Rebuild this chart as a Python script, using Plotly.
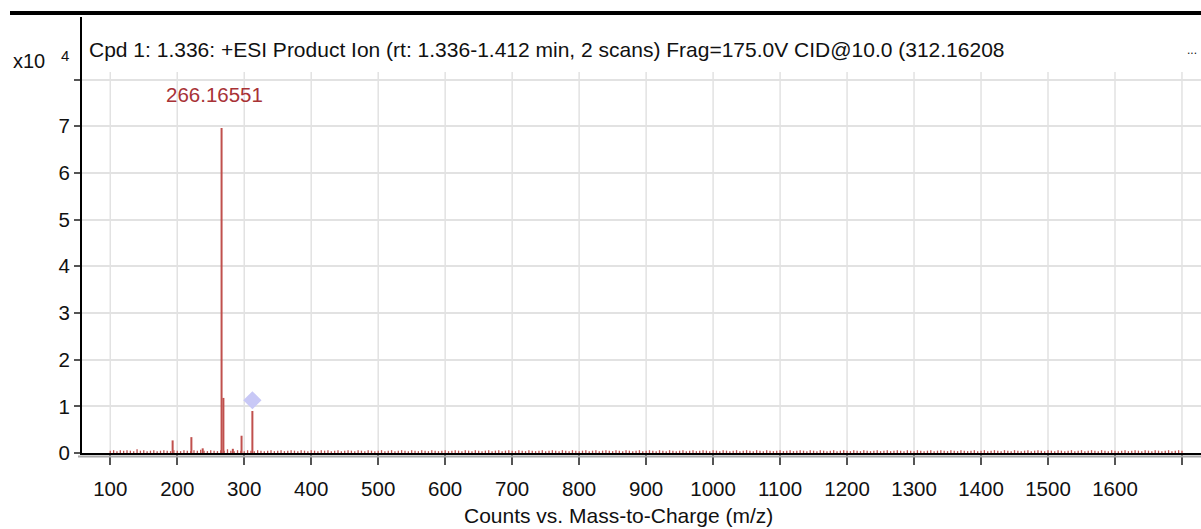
import plotly.graph_objects as go

# ---------------- data ----------------
title_text = "Cpd 1: 1.336: +ESI Product Ion (rt: 1.336-1.412 min, 2 scans) Frag=175.0V CID@10.0 (312.16208"
x_title = "Counts vs. Mass-to-Charge (m/z)"
y_scale_text = "x10"
y_scale_exp = "4"

# main fragment peaks (m/z, intensity in x10^4 counts)
peak_mz = [193.1, 221.1, 238.0, 266.16551, 268.9, 283.0, 296.0, 312.16208]
peak_int = [0.27, 0.34, 0.10, 6.96, 1.18, 0.09, 0.37, 0.90]

# labelled peak
label_mz = 266.16551
label_int = 6.96
label_text = "266.16551"

# precursor marker
precursor_mz = [312.16208]
precursor_int = [1.13]

# low-level baseline noise (hundredths of x10^4 counts), every 5 m/z from 100 to 1700
noise_mz = list(range(100, 1701, 5))
noise_h = [
    5, 6, 4, 6, 5, 6, 5, 4, 8, 5, 6, 4, 5, 6, 4, 5, 6, 5, 4, 6,
    5, 4, 6, 5, 4, 6, 5, 7, 5, 4, 6, 5, 4, 6, 5, 8, 5, 4, 6, 5,
    4, 6, 5, 4, 6, 5, 4, 5, 6, 4, 5, 6, 4, 5, 6, 5, 4, 6, 5, 4,
    6, 5, 4, 6, 5, 6, 4, 5, 6, 4, 5, 6, 5, 4, 6, 5, 4, 6, 5, 4,
    5, 6, 4, 5, 6, 4, 5, 6, 5, 4, 6, 5, 4, 6, 5, 4, 6, 5, 4, 5,
    6, 4, 5, 6, 5, 4, 6, 5, 4, 6, 5, 4, 5, 6, 4, 5, 6, 4, 5, 6,
    5, 4, 6, 5, 4, 6, 5, 4, 5, 6, 4, 5, 6, 5, 4, 6, 5, 4, 6, 5,
    4, 5, 6, 4, 5, 6, 4, 5, 6, 5, 4, 6, 5, 4, 6, 5, 4, 5, 6, 4,
    5, 6, 5, 4, 6, 5, 4, 6, 5, 4, 5, 6, 4, 5, 6, 4, 5, 6, 5, 4,
    6, 5, 4, 6, 5, 4, 5, 6, 4, 5, 6, 5, 4, 6, 5, 4, 6, 5, 4, 5,
    6, 4, 5, 6, 4, 5, 6, 5, 4, 6, 5, 4, 6, 5, 4, 5, 6, 4, 5, 6,
    5, 4, 6, 5, 4, 6, 5, 4, 5, 6, 4, 5, 6, 4, 5, 6, 5, 4, 6, 5,
    4, 6, 5, 4, 5, 6, 4, 5, 6, 5, 4, 6, 5, 4, 6, 5, 4, 5, 6, 4,
    5, 6, 4, 5, 6, 5, 4, 6, 5, 4, 6, 5, 4, 5, 6, 4, 5, 6, 5, 4,
    6, 5, 4, 6, 5, 4, 5, 6, 4, 5, 6, 4, 5, 6, 5, 4, 6, 5, 4, 6,
    5, 4, 5, 6, 4, 5, 6, 5, 4, 6, 5, 4, 6, 5, 4, 5, 6, 4, 5, 6,
    5,
]

x_ticks = [100, 200, 300, 400, 500, 600, 700, 800, 900, 1000, 1100, 1200,
           1300, 1400, 1500, 1600, 1700]
x_ticklabels = ["100", "200", "300", "400", "500", "600", "700", "800", "900",
                "1000", "1100", "1200", "1300", "1400", "1500", "1600", ""]
y_ticks = [0, 1, 2, 3, 4, 5, 6, 7, 8]
y_ticklabels = ["0", "1", "2", "3", "4", "5", "6", "7", ""]

# ---------------- styling ----------------
FONT = "Liberation Sans, Arial, sans-serif"
PEAK_COLOR = "#c0504d"
GRID = "#e2e2e2"
W, H = 1201, 529
ML, MR, MT, MB = 82, 0, 17, 76
PW, PH = W - ML - MR, H - MT - MB


def px_x(p):
    return (p - ML) / PW


def px_y(p):
    return (H - MB - p) / PH


def sticks(xs, ys):
    sx, sy = [], []
    for a, b in zip(xs, ys):
        sx += [a, a, None]
        sy += [0, b, None]
    return sx, sy


fig = go.Figure()

nx, ny = sticks(noise_mz, [h / 100 for h in noise_h])
fig.add_trace(go.Scatter(x=nx, y=ny, mode="lines",
                         line=dict(color=PEAK_COLOR, width=1.3),
                         hoverinfo="skip", showlegend=False))

sx, sy = sticks(peak_mz, peak_int)
fig.add_trace(go.Scatter(x=sx, y=sy, mode="lines",
                         line=dict(color=PEAK_COLOR, width=2),
                         showlegend=False))

fig.add_trace(go.Scatter(x=precursor_mz, y=precursor_int, mode="markers",
                         marker=dict(symbol="diamond", size=14, color="#c8c8f6",
                                     line=dict(width=0)),
                         showlegend=False))

# vertical grid lines (stop below the title row)
shapes = []
for t in x_ticks:
    shapes.append(dict(type="line", xref="x", yref="y", x0=t, x1=t, y0=0, y1=8.16,
                       line=dict(color=GRID, width=1.5), layer="below"))
# top black bar
shapes.append(dict(type="rect", xref="paper", yref="paper",
                   x0=px_x(10), x1=1.0, y0=px_y(15), y1=px_y(11),
                   fillcolor="black", line=dict(width=0)))
# grey shadow under x axis
shapes.append(dict(type="line", xref="paper", yref="paper",
                   x0=px_x(78), x1=1.0, y0=px_y(456.5), y1=px_y(456.5),
                   line=dict(color="#a8a8a8", width=2)))

annotations = [
    dict(text=title_text, xref="paper", yref="paper", x=px_x(87), y=px_y(49),
         xanchor="left", yanchor="middle", showarrow=False,
         font=dict(family=FONT, size=21, color="#111")),
    dict(text="...", xref="paper", yref="paper", x=px_x(1199), y=px_y(50),
         xanchor="right", yanchor="middle", showarrow=False,
         font=dict(family=FONT, size=12, color="#111")),
    dict(text=y_scale_text, xref="paper", yref="paper", x=px_x(11), y=px_y(61),
         xanchor="left", yanchor="middle", showarrow=False,
         font=dict(family=FONT, size=20, color="#111")),
    dict(text=y_scale_exp, xref="paper", yref="paper", x=px_x(65), y=px_y(55),
         xanchor="center", yanchor="middle", showarrow=False,
         font=dict(family=FONT, size=15, color="#111")),
    dict(text=label_text, x=label_mz, y=label_int, xref="x", yref="y",
         xshift=-7, yshift=34, xanchor="center", yanchor="middle", showarrow=False,
         font=dict(family=FONT, size=20.5, color="#a83236")),
    dict(text=x_title, xref="paper", yref="paper", x=px_x(618), y=px_y(515),
         xanchor="center", yanchor="middle", showarrow=False,
         font=dict(family=FONT, size=21, color="#111")),
]

fig.update_layout(
    width=W, height=H,
    margin=dict(l=ML, r=MR, t=MT, b=MB, pad=0),
    paper_bgcolor="white", plot_bgcolor="white",
    shapes=shapes, annotations=annotations,
    showlegend=False,
    xaxis=dict(range=[57.8, 1728.4], tickvals=x_ticks, ticktext=x_ticklabels,
               showgrid=False, zeroline=False, showline=True, linecolor="black",
               linewidth=2, ticks="outside", ticklen=10, tickwidth=2,
               tickcolor="#555", ticklabelstandoff=6,
               tickfont=dict(family=FONT, size=20.5, color="#111")),
    yaxis=dict(range=[0, 9.34], tickvals=y_ticks, ticktext=y_ticklabels,
               showgrid=True, gridcolor=GRID, gridwidth=1.5, zeroline=False,
               showline=True, linecolor="black", linewidth=2, ticks="outside",
               ticklen=6, tickwidth=2, tickcolor="#555",
               tickfont=dict(family=FONT, size=20.5, color="#111")),
)

fig.write_html("out.html", config={"displayModeBar": False},
               post_script="document.body.style.margin='0';")
